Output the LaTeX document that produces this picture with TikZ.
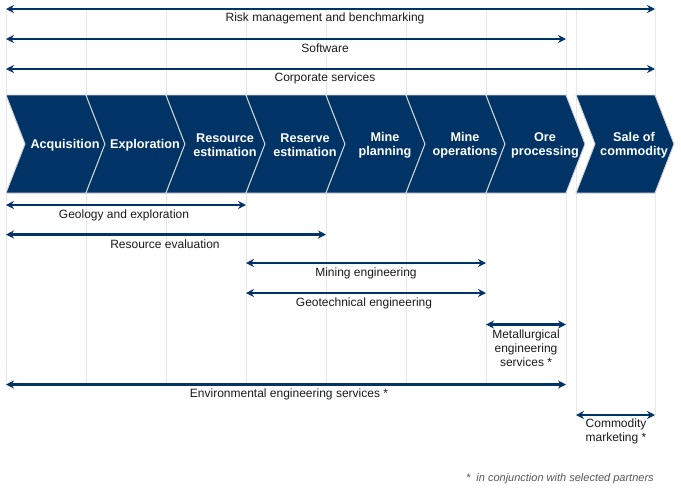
\documentclass[tikz,border=0pt]{standalone}
\usepackage{fontspec}
\setmainfont{Liberation Sans}
\usepackage{xcolor}
\usepackage{tikz}
\usetikzlibrary{arrows.meta}

\definecolor{navy}{HTML}{003366}
\definecolor{gridgray}{HTML}{E8E8E8}
\definecolor{labelgray}{HTML}{1A1A1A}
\definecolor{notegray}{HTML}{555555}

\tikzset{
  span/.style={draw=navy, line width=1.8pt, {Stealth[length=6pt,width=6pt]}-{Stealth[length=6pt,width=6pt]}},
  chev/.style={fill=navy, draw=gray!35, line width=0.7pt},
  gridline/.style={draw=gridgray, line width=0.6pt},
  steplabel/.style={text=white, font=\fontsize{9.5}{10.5}\selectfont\bfseries, align=center, inner sep=0.75pt},
  spanlabel/.style={text=labelgray, font=\fontsize{9}{10.5}\selectfont, align=center, inner sep=0.75pt},
}

\begin{document}
\begin{tikzpicture}[x=0.75pt,y=0.75pt,yscale=-1,xscale=1]
\useasboundingbox (0,0) rectangle (681,494);

%Shape: Grid lines
\draw[gridline] (6,9) -- (6,384) ;
\draw[gridline] (86,9) -- (86,384) ;
\draw[gridline] (166,9) -- (166,384) ;
\draw[gridline] (246,9) -- (246,384) ;
\draw[gridline] (326,9) -- (326,384) ;
\draw[gridline] (406,9) -- (406,384) ;
\draw[gridline] (486,9) -- (486,384) ;
\draw[gridline] (566,9) -- (566,384) ;
\draw[gridline] (576,9) -- (576,415) ;
\draw[gridline] (655,9) -- (655,415) ;

%Shape: Chevrons
\draw[chev] (6,95) -- (86,95) -- (105,144) -- (86,193) -- (6,193) -- (25,144) -- cycle ;
\draw[chev] (86,95) -- (166,95) -- (185,144) -- (166,193) -- (86,193) -- (105,144) -- cycle ;
\draw[chev] (166,95) -- (246,95) -- (265,144) -- (246,193) -- (166,193) -- (185,144) -- cycle ;
\draw[chev] (246,95) -- (326,95) -- (345,144) -- (326,193) -- (246,193) -- (265,144) -- cycle ;
\draw[chev] (326,95) -- (406,95) -- (425,144) -- (406,193) -- (326,193) -- (345,144) -- cycle ;
\draw[chev] (406,95) -- (486,95) -- (505,144) -- (486,193) -- (406,193) -- (425,144) -- cycle ;
\draw[chev] (486,95) -- (566,95) -- (585,144) -- (566,193) -- (486,193) -- (505,144) -- cycle ;
\draw[chev] (576,95) -- (655,95) -- (674,144) -- (655,193) -- (576,193) -- (595,144) -- cycle ;

% Text Node
\node[steplabel] (acq) at (65,145.5) {Acquisition};
\node[steplabel] (expl) at (145,145.5) {Exploration};
\node[steplabel] (resest) at (225,145.5) {Resource\\estimation};
\node[steplabel] (resvest) at (305,145.5) {Reserve\\estimation};
\node[steplabel] (mplan) at (385,145.5) {Mine\\planning};
\node[steplabel] (mops) at (465,145.5) {Mine\\operations};
\node[steplabel] (orep) at (545,145.5) {Ore\\processing};
\node[steplabel] (sale) at (634,145.5) {Sale of\\commodity};

%Shape: Spans above
\coordinate (risk-l) at (6,9);
\coordinate (risk-r) at (655,9);
\draw[span] (risk-l) -- (risk-r);
\coordinate (soft-l) at (6,39);
\coordinate (soft-r) at (566,39);
\draw[span] (soft-l) -- (soft-r);
\coordinate (corp-l) at (6,69);
\coordinate (corp-r) at (655,69);
\draw[span] (corp-l) -- (corp-r);

% Text Node
\node[spanlabel] (risk) at (325,18.5) {Risk management and benchmarking};
\node[spanlabel] (soft) at (325,48.5) {Software};
\node[spanlabel] (corp) at (325,78.5) {Corporate services};

%Shape: Spans below
\coordinate (geo-l) at (6,205);
\coordinate (geo-r) at (246,205);
\draw[span] (geo-l) -- (geo-r);
\coordinate (reval-l) at (6,234.5);
\coordinate (reval-r) at (326,234.5);
\draw[span] (reval-l) -- (reval-r);
\coordinate (mine-l) at (246,263);
\coordinate (mine-r) at (486,263);
\draw[span] (mine-l) -- (mine-r);
\coordinate (geot-l) at (246,293);
\coordinate (geot-r) at (486,293);
\draw[span] (geot-l) -- (geot-r);
\coordinate (met-l) at (486,324.5);
\coordinate (met-r) at (566,324.5);
\draw[span] (met-l) -- (met-r);
\coordinate (env-l) at (6,384.5);
\coordinate (env-r) at (566,384.5);
\draw[span] (env-l) -- (env-r);
\coordinate (comm-l) at (576,415);
\coordinate (comm-r) at (655,415);
\draw[span] (comm-l) -- (comm-r);

% Text Node
\node[spanlabel] (geo) at (124,215) {Geology and exploration};
\node[spanlabel] (reval) at (165,244.5) {Resource evaluation};
\node[spanlabel] (mine) at (366,273) {Mining engineering};
\node[spanlabel] (geot) at (364,303.5) {Geotechnical engineering};
\node[spanlabel] (met) at (526,348.5) {Metallurgical\\engineering\\services *};
\node[spanlabel] (env) at (289,394.5) {Environmental engineering services *};
\node[spanlabel] (comm) at (616,431) {Commodity\\marketing *};

% Text Node
\node[text=notegray, font=\fontsize{8.25}{10}\selectfont\itshape, anchor=east, inner sep=0.75pt] (note) at (655,478.5) {*\ \ in conjunction with selected partners};
\end{tikzpicture}
\end{document}
